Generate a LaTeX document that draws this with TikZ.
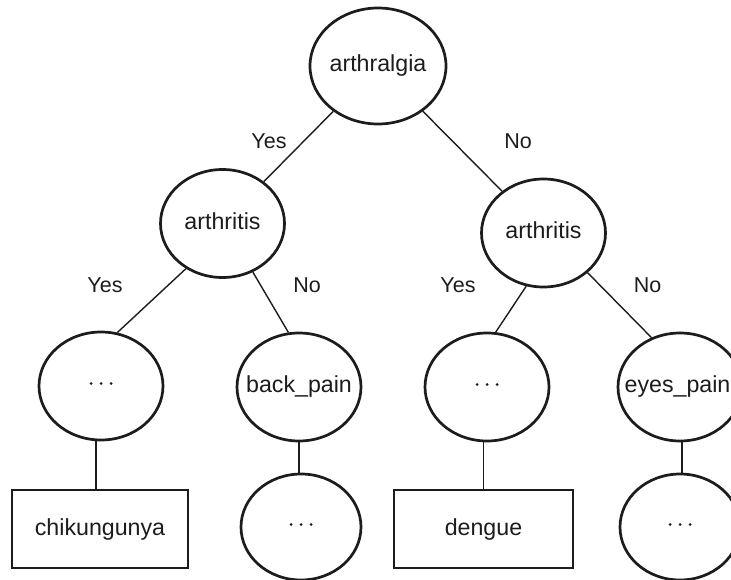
\documentclass[tikz,border=0pt]{standalone}
\usepackage{fontspec}
\setmainfont{Liberation Sans}
\usetikzlibrary{shapes.geometric}
\definecolor{ink}{HTML}{1C1C1C}
\newcommand{\ntext}[1]{\makebox[0pt]{\vphantom{hg}#1}}
\newcommand{\onedot}{\raisebox{7pt}{\tikz\fill[ink] (0,0) circle (1.5pt);}}
\newcommand{\dotsmid}{\onedot\kern7pt\onedot\kern7pt\onedot}
\begin{document}
\begin{tikzpicture}[x=1pt,y=-1pt,
  ell/.style={ellipse, draw=ink, line width=2.7pt, inner sep=0pt,
    minimum width=124pt, minimum height=108pt, text=ink,
    font=\fontsize{23.2}{28}\selectfont},
  leafbox/.style={rectangle, draw=ink, line width=1.8pt, inner sep=0pt,
    minimum width=176pt, minimum height=78pt, text=ink,
    font=\fontsize{23.2}{28}\selectfont},
  edge/.style={draw=ink, line width=1.4pt},
  lab/.style={anchor=base, inner sep=0pt, text=ink,
    font=\fontsize{21.5}{26}\selectfont}]
\useasboundingbox (0,0) rectangle (731,580);
% nodes
\node[ell, minimum width=136pt, minimum height=116pt] (root) at (378,66) {\ntext{arthralgia}};
\node[ell] (aL) at (222.5,223.5) {\ntext{arthritis}};
\node[ell] (aR) at (543.5,233) {\ntext{arthritis}};
\node[ell] (l1) at (101,386) {\ntext{\dotsmid}};
\node[ell] (bp) at (299,387) {\ntext{back\_pain}};
\node[ell] (l3) at (487,387) {\ntext{\dotsmid}};
\node[ell] (ep) at (680,387) {\ntext{\kern-5pt eyes\_pain}};
\node[leafbox] (b1) at (100,529) {\ntext{chikungunya}};
\node[leafbox, minimum width=179pt] (b2) at (483.5,529) {\ntext{dengue}};
\node[ell, minimum width=120pt, minimum height=106pt] (l4) at (301,527) {\ntext{\dotsmid}};
\node[ell, minimum width=120pt, minimum height=106pt] (l5) at (680,527) {\ntext{\dotsmid}};
% connectors
\draw[edge] (root) -- (aL);
\draw[edge] (root) -- (aR);
\draw[edge] (aL.-129) -- (l1.73);
\draw[edge] (aL.-58.5) -- (bp.101);
\draw[edge] (aR.-108) -- (l3.81);
\draw[edge] (aR.-42.3) -- (ep.120);
\draw[edge] ([xshift=-4pt]b1.north) -- ([xshift=-4pt]b1.north |- l1.south);
\draw[edge] (b2.north) -- (b2.north |- l3.south);
\draw[edge] (bp.south) -- (bp.south |- l4.north);
\draw[edge] ([xshift=2pt]ep.south) -- ([xshift=2pt]l5.north);
% labels
\node[lab] (y1) at (269,148.5) {Yes};
\node[lab] (n1) at (518,148.5) {No};
\node[lab] (y2) at (105,292.5) {Yes};
\node[lab] (n2) at (307,292.5) {No};
\node[lab] (y3) at (458,292.5) {Yes};
\node[lab] (n3) at (647.5,292.5) {No};
\end{tikzpicture}
\end{document}
